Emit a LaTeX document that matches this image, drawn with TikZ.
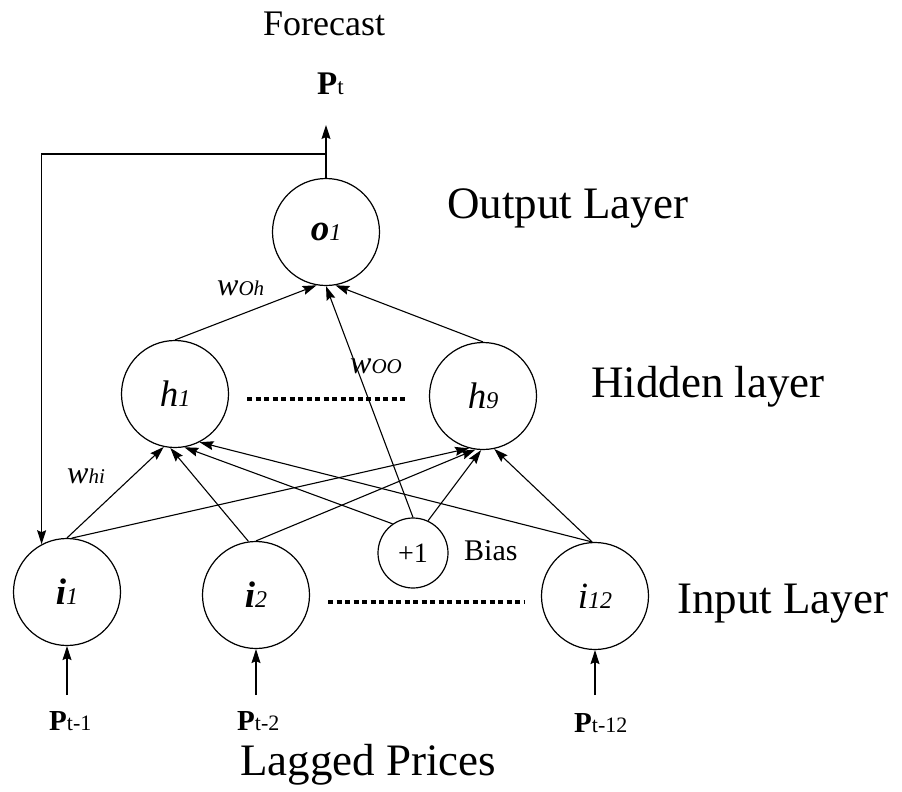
\documentclass[tikz,border=0pt]{standalone}
\usepackage{fontspec}
\setmainfont{Liberation Serif}
\usetikzlibrary{arrows.meta}
\begin{document}
\begin{tikzpicture}[x=1pt,y=-1pt,
  neuron/.style={circle, draw, line width=1.2pt, minimum size=107pt, inner sep=0pt, font=\fontsize{37}{37}\selectfont},
  biasnode/.style={circle, draw, line width=1.2pt, minimum size=70pt, inner sep=0pt, font=\fontsize{28}{28}\selectfont},
  conn/.style={line width=1.1pt, -{Stealth[length=14pt,width=9pt,inset=2pt]}},
  plain/.style={line width=1.1pt},
  lay/.style={font=\fontsize{45}{45}\selectfont, anchor=base west, inner sep=0pt},
  txt/.style={anchor=base west, inner sep=0pt},
  dots/.style={line width=4pt, dash pattern=on 5pt off 3.5pt}
]
\useasboundingbox (0,0) rectangle (902,792);
\newcommand{\sd}[1]{{\fontsize{24}{24}\selectfont\itshape #1}}
\newcommand{\ws}[1]{{\fontsize{32}{32}\selectfont\itshape w}{\fontsize{21}{21}\selectfont\itshape #1}}
\newcommand{\pl}[1]{{\fontsize{29}{29}\selectfont\bfseries P}{\fontsize{22}{22}\selectfont #1}}

% neurons
\node[neuron] (o1) at (326,232) {{\bfseries\itshape o}\sd{1}};
\node[neuron] (h1) at (175,394) {{\itshape h}\sd{1}};
\node[neuron] (h9) at (483,396) {{\itshape h}\sd{9}};
\node[neuron] (i1) at (67,592) {{\bfseries\itshape i}\sd{1}};
\node[neuron] (i2) at (256,595) {{\bfseries\itshape i}\sd{2}};
\node[neuron] (i12) at (595,596) {{\itshape i}\sd{12}};
\node[biasnode] (b) at (413,553) {+1};

% texts
\node[txt, font=\fontsize{36}{36}\selectfont] (fc) at (263,36) {Forecast};
\node[txt] (pt) at (317,95) {{\fontsize{33}{33}\selectfont\bfseries P}{\fontsize{23}{23}\selectfont t}};
\node[lay] (lo) at (447,218) {Output Layer};
\node[lay] (lh) at (591,397) {Hidden layer};
\node[lay] (li) at (677,613) {Input Layer};
\node[lay] (lp) at (240,775) {Lagged Prices};
\node[txt, font=\fontsize{30}{30}\selectfont] (bias) at (464,560) {Bias};
\node[txt] (p1) at (49,730) {\pl{t-1}};
\node[txt] (p2) at (237,730) {\pl{t-2}};
\node[txt] (p12) at (574,732) {\pl{t-12}};
\node[txt] (woh) at (217,295) {\ws{Oh}};
\node[txt] (woo) at (350,373) {\ws{OO}};
\node[txt] (whi) at (67,483) {\ws{hi}};

% coordinates for free ends
\coordinate (jn) at (326,154);
\coordinate (out) at (326,125);
\coordinate (a1) at (67,695);
\coordinate (a2) at (256,695);
\coordinate (a12) at (595,695);

% output and feedback
\draw[plain] (o1.north) -- (jn);
\draw[conn] (jn) -- (out);
\draw[conn] (jn) -| (i1.118);

% hidden to output
\draw[conn] (h1.north) -- (o1.260);
\draw[conn] (h9.north) -- (o1.280);
\draw[conn] (b.90) -- (o1.270);

% input to hidden
\draw[conn] (i1.north) -- (h1.258);
\draw[conn] (i2.98) -- (h1.265);
\draw[conn] (b.125) -- (h1.280);
\draw[conn] (i12.93) -- (h1.297);
\draw[conn] (i1.85) -- (h9.255);
\draw[conn] (i2.north) -- (h9.262);
\draw[conn] (b.65) -- (h9.268);
\draw[conn] (i12.93) -- (h9.282);

% inputs
\draw[conn] (a1) -- (i1.south);
\draw[conn] (a2) -- (i2.south);
\draw[conn] (a12) -- (i12.south);

% ellipsis dots
\draw[dots] (247,399) -- (405,399);
\draw[dots] (328,602) -- (525,602);
\end{tikzpicture}
\end{document}
